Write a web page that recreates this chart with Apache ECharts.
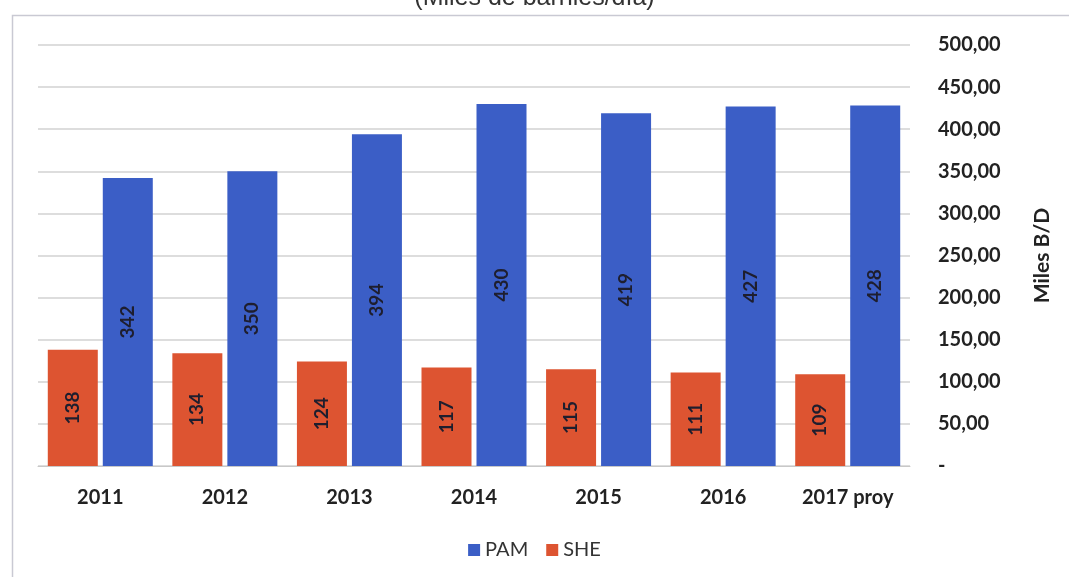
<!DOCTYPE html>
<html>
<head>
<meta charset="utf-8">
<script src="https://cdn.jsdelivr.net/npm/echarts@6/dist/echarts.min.js"></script>
<style>
  html, body { margin: 0; padding: 0; background: #fff; }
  #chart { width: 1069px; height: 577px; }
</style>
</head>
<body>
<div id="chart"></div>
<script>
const years = ['2011', '2012', '2013', '2014', '2015', '2016', '2017 proy'];
const pam = [342, 350, 394, 430, 419, 427, 428];
const she = [138, 134, 124, 117, 115, 111, 109];

const myChart = echarts.init(document.getElementById('chart'));

const barLabel = {
  show: true,
  position: 'inside',
  rotate: 90,
  color: '#1e1e2e',
  fontFamily: 'Lato',
  fontSize: 19,
  fontWeight: 'bold'
};

const option = {
  backgroundColor: '#fff',
  animation: false,
  title: {
    text: '(Miles de barriles/día)',
    left: 'center',
    top: -19,
    textStyle: { fontFamily: 'Liberation Sans', fontSize: 25, fontWeight: 'normal', color: '#333' }
  },
  graphic: [
    {
      type: 'rect',
      shape: { x: 12.5, y: 15.5, width: 1070, height: 600 },
      style: { fill: 'none', stroke: '#c9c9d3', lineWidth: 1.5 },
      silent: true,
      z: -1
    }
  ],
  legend: {
    bottom: 12,
    left: 'center',
    itemWidth: 12,
    itemHeight: 12,
    itemGap: 18,
    icon: 'rect',
    textStyle: { fontFamily: 'Lato', fontSize: 20, color: '#333' },
    data: ['PAM', 'SHE']
  },
  grid: { left: 38, right: 159, top: 45, bottom: 111 },
  xAxis: {
    type: 'category',
    data: years,
    axisTick: { show: false },
    axisLine: { lineStyle: { color: '#c8c8c8' } },
    axisLabel: { margin: 22, color: '#222', fontFamily: 'Lato', fontSize: 20, fontWeight: 'bold' }
  },
  yAxis: {
    type: 'value',
    position: 'right',
    min: 0,
    max: 500,
    interval: 50,
    name: 'Miles B/D',
    nameLocation: 'middle',
    nameRotate: 90,
    nameGap: 122,
    nameTextStyle: { fontFamily: 'Lato', fontSize: 21, fontWeight: 'bold', color: '#222' },
    axisLine: { show: false },
    axisTick: { show: false },
    splitLine: { lineStyle: { color: '#d2d2d2', width: 1.5 } },
    axisLabel: {
      margin: 28,
      align: 'left',
      color: '#222',
      fontFamily: 'Lato',
      fontSize: 20,
      fontWeight: 'bold',
      formatter: v => v === 0 ? '-' : v.toFixed(2).replace('.', ',')
    }
  },
  series: [
    {
      name: 'SHE',
      type: 'bar',
      data: she,
      barWidth: 50,
      barGap: '10%',
      itemStyle: { color: '#dd5431' },
      label: barLabel
    },
    {
      name: 'PAM',
      type: 'bar',
      data: pam,
      barWidth: 50,
      barGap: '10%',
      itemStyle: { color: '#3b5ec6' },
      label: barLabel
    }
  ]
};

myChart.setOption(option);
window.addEventListener('resize', function () {
  myChart.resize();
});
</script>
</body>
</html>
